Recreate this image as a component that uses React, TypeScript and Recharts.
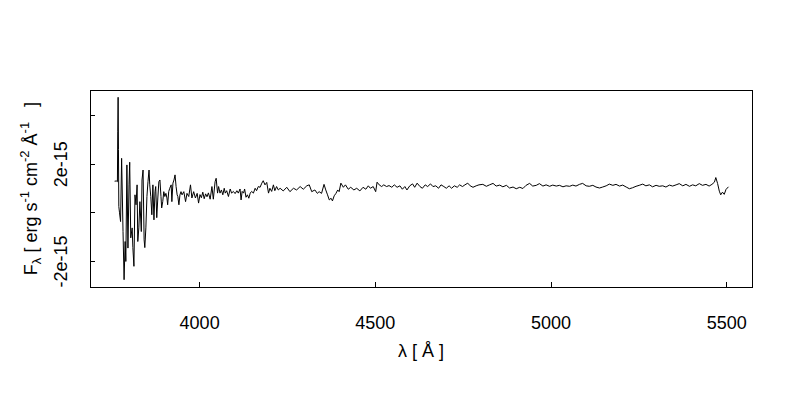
import React from 'react';
import { LineChart, Line, XAxis, YAxis, ReferenceArea } from 'recharts';

// wavelength in Å
const wavelength = [
  3758, 3763, 3766, 3767, 3768, 3769, 3770, 3772, 3775, 3778, 3782, 3785, 3788, 3790, 3793, 3796, 3799, 3801, 3804, 3808,
  3810, 3813, 3816, 3819, 3822, 3824, 3827, 3830, 3834, 3836, 3839, 3842, 3844, 3847, 3850, 3853, 3856, 3858, 3861, 3864,
  3867, 3870, 3873, 3875, 3878, 3881, 3884, 3887, 3890, 3892, 3895, 3898, 3901, 3904, 3907, 3909, 3912, 3915, 3919, 3921,
  3924, 3927, 3930, 3933, 3936, 3938, 3941, 3944, 3947, 3950, 3955, 3960, 3964, 3969, 3974, 3978, 3983, 3988, 3993, 3997,
  4001, 4005, 4009, 4013, 4017, 4021, 4025, 4030, 4035, 4039, 4044, 4047, 4051, 4054, 4058, 4062, 4066, 4070, 4073, 4077,
  4082, 4087, 4091, 4096, 4101, 4106, 4110, 4115, 4118, 4121, 4125, 4128, 4132, 4136, 4140, 4144, 4148, 4153, 4158, 4162,
  4167, 4172, 4177, 4181, 4186, 4191, 4196, 4200, 4205, 4210, 4214, 4219, 4224, 4229, 4238, 4248, 4257, 4267, 4276, 4286,
  4295, 4305, 4312, 4319, 4328, 4335, 4340, 4347, 4354, 4359, 4364, 4369, 4374, 4378, 4383, 4388, 4393, 4397, 4402, 4409,
  4415, 4423, 4430, 4439, 4447, 4456, 4465, 4473, 4480, 4486, 4494, 4501, 4505, 4511, 4518, 4524, 4532, 4539, 4547, 4554,
  4562, 4570, 4577, 4584, 4590, 4598, 4606, 4612, 4619, 4627, 4634, 4642, 4649, 4657, 4664, 4672, 4680, 4687, 4695, 4702,
  4710, 4717, 4725, 4733, 4740, 4748, 4755, 4763, 4770, 4778, 4787, 4795, 4806, 4816, 4825, 4835, 4844, 4854, 4863, 4873,
  4882, 4892, 4901, 4911, 4920, 4929, 4939, 4948, 4958, 4967, 4977, 4986, 4996, 5005, 5015, 5024, 5034, 5043, 5053, 5062,
  5071, 5081, 5090, 5100, 5109, 5119, 5128, 5138, 5147, 5157, 5166, 5176, 5185, 5195, 5204, 5214, 5223, 5232, 5242, 5251,
  5261, 5270, 5280, 5289, 5299, 5308, 5318, 5327, 5337, 5346, 5356, 5365, 5375, 5384, 5394, 5403, 5412, 5422, 5431, 5441,
  5450, 5458, 5465, 5469, 5474, 5479, 5483, 5488, 5493, 5498, 5505,
];

// flux in units of 1e-15 erg s^-1 cm^-2 Å^-1
const flux = [
  1.30, 1.31, 1.28, 3.33, 4.75, 2.60, 0.26, 0.00, -0.36, 2.24, -0.77, -2.75, -1.18, -2.00, 1.97, -1.45, 1.15, 2.08, -1.03, -0.62,
  -1.43, -2.20, 0.74, 0.33, 1.15, -1.18, -0.62, 0.46, -0.77, 1.35, 1.76, -1.11, -1.43, -0.62, 0.67, 1.28, 1.76, 1.15, 0.67, -0.08,
  1.15, -0.29, 0.87, 1.08, -0.20, 0.61, 1.28, 1.35, 0.67, 0.20, 0.46, 0.87, 0.67, 0.80, 0.61, 0.33, 0.87, 1.01, 1.15, 0.46,
  1.22, 1.35, 1.56, 1.08, 0.74, 0.67, 0.33, 0.74, 0.87, 0.74, 0.87, 0.46, 0.80, 0.67, 1.15, 0.61, 0.87, 0.61, 0.80, 0.40,
  0.75, 0.62, 0.85, 0.58, 0.78, 0.66, 0.82, 0.56, 1.08, 0.56, 1.28, 1.42, 0.81, 1.08, 0.81, 0.94, 0.74, 1.01, 0.81, 0.91,
  0.67, 0.98, 0.81, 0.88, 0.79, 0.91, 0.81, 0.98, 0.53, 0.88, 0.81, 0.98, 0.64, 0.74, 0.60, 0.81, 0.88, 0.81, 1.01, 0.91,
  1.08, 1.05, 1.22, 1.32, 1.15, 1.25, 0.81, 1.01, 0.88, 1.15, 0.91, 1.08, 0.94, 1.01, 0.90, 1.05, 0.87, 1.01, 0.94, 1.08,
  0.97, 1.11, 1.15, 0.87, 0.94, 0.80, 0.87, 0.80, 1.17, 0.94, 0.74, 0.53, 0.60, 0.49, 0.70, 0.80, 0.94, 0.87, 1.22, 1.05,
  1.15, 0.97, 1.05, 0.94, 1.01, 0.90, 1.05, 0.97, 1.11, 1.01, 1.08, 0.87, 1.26, 1.15, 1.08, 1.15, 1.08, 1.12, 1.05, 1.15,
  1.05, 1.11, 0.97, 1.08, 0.94, 1.11, 1.19, 1.05, 1.22, 1.08, 1.01, 1.15, 1.08, 1.19, 1.08, 1.11, 1.01, 1.15, 1.08, 1.01,
  1.11, 1.01, 1.11, 1.05, 1.15, 1.08, 1.15, 1.22, 1.11, 1.05, 1.11, 1.15, 1.17, 1.09, 1.15, 1.21, 1.10, 1.14, 1.07, 1.13,
  1.02, 1.06, 0.99, 1.05, 1.00, 1.13, 1.21, 1.10, 1.13, 1.20, 1.10, 1.15, 1.09, 1.14, 1.10, 1.13, 1.07, 1.11, 1.09, 1.14,
  1.10, 1.17, 1.21, 1.11, 1.09, 1.13, 1.06, 1.02, 1.06, 1.11, 1.18, 1.13, 1.17, 1.10, 1.14, 1.06, 0.99, 1.03, 1.09, 1.13,
  1.18, 1.11, 1.15, 1.07, 1.13, 1.09, 1.11, 1.06, 1.14, 1.10, 1.15, 1.20, 1.11, 1.17, 1.09, 1.15, 1.11, 1.20, 1.13, 1.17,
  1.10, 1.17, 1.26, 1.45, 1.21, 0.89, 0.74, 0.85, 0.76, 0.96, 1.07,
];

const xTicks = [4000, 4500, 5000, 5500];
const yTicks = [-2, 0, 2, 4];
const yTickLabels = ['-2e-15', '', '2e-15', ''];
const xDomain = [3688, 5572];
const yDomain = [-3.05, 5.05];

const data = wavelength.map((w, i) => ({ w, f: flux[i] }));

const FONT = '"Liberation Sans", Arial, Helvetica, sans-serif';
const FS = 18;
const FS_SMALL = 13;

function XTick(props: any) {
  const { x, y, payload } = props;
  return (
    <g>
      <text x={x} y={y + 42} textAnchor="middle" fontFamily={FONT} fontSize={FS} fill="#000">
        {String(payload.value)}
      </text>
    </g>
  );
}

function YTick(props: any) {
  const { x, y, payload } = props;
  const idx = yTicks.indexOf(payload.value);
  const label = idx >= 0 ? yTickLabels[idx] : '';
  if (!label) return <g />;
  const bx = x - 23;
  return (
    <g>
      <text
        x={bx}
        y={y}
        transform={`rotate(-90, ${bx}, ${y})`}
        textAnchor="middle"
        fontFamily={FONT}
        fontSize={FS}
        fill="#000"
      >
        {label}
      </text>
    </g>
  );
}

function YTitle(props: any) {
  const vb = props.viewBox || { x: 0, y: 90, width: 90, height: 197 };
  const cx = 37;
  const cy = vb.y + vb.height / 2;
  return (
    <text
      x={cx}
      y={cy}
      transform={`rotate(-90, ${cx}, ${cy})`}
      textAnchor="middle"
      fontFamily={FONT}
      fontSize={FS}
      fill="#000"
      style={{ whiteSpace: 'pre' }}
    >
      <tspan>F</tspan>
      <tspan fontSize={FS_SMALL} dy={4}>λ</tspan>
      <tspan dy={-4}>{' [ erg s'}</tspan>
      <tspan fontSize={FS_SMALL} dy={-8}>-1</tspan>
      <tspan dy={8}>{' cm'}</tspan>
      <tspan fontSize={FS_SMALL} dy={-8}>-2</tspan>
      <tspan dy={8}>{' Å'}</tspan>
      <tspan fontSize={FS_SMALL} dy={-8}>-1</tspan>
      <tspan dy={8}>{'   ]'}</tspan>
    </text>
  );
}

function XTitle(props: any) {
  const vb = props.viewBox || { x: 90, y: 287, width: 662, height: 113 };
  const cx = vb.x + vb.width / 2;
  return (
    <text x={cx} y={357} textAnchor="middle" fontFamily={FONT} fontSize={FS} fill="#000" style={{ whiteSpace: 'pre' }}>
      {'λ [ Å ]'}
    </text>
  );
}

export default function App() {
  return (
    <div style={{ position: 'absolute', left: 0, top: 0, width: 800, height: 400, background: '#fff' }}>
      <LineChart width={800} height={400} data={data} margin={{ top: 90, right: 48, bottom: 0, left: 0 }}>
        <XAxis
          dataKey="w"
          type="number"
          domain={xDomain}
          ticks={xTicks}
          allowDataOverflow
          height={113}
          axisLine={false}
          tickLine={{ stroke: '#000', shapeRendering: 'crispEdges' }}
          tickSize={-5}
          tickMargin={5}
          tick={<XTick />}
          label={{ content: (p: any) => <XTitle {...p} /> }}
          interval={0}
        />
        <YAxis
          type="number"
          domain={yDomain}
          ticks={yTicks}
          allowDataOverflow
          width={90}
          axisLine={false}
          tickLine={{ stroke: '#000', shapeRendering: 'crispEdges' }}
          tickSize={-5}
          tickMargin={5}
          tick={<YTick />}
          label={{ content: (p: any) => <YTitle {...p} /> }}
          interval={0}
        />
        <ReferenceArea
          x1={xDomain[0]}
          x2={xDomain[1]}
          y1={yDomain[0]}
          y2={yDomain[1]}
          fill="none"
          stroke="#000"
          strokeWidth={1}
          shapeRendering="crispEdges"
        />
        <Line
          type="linear"
          dataKey="f"
          stroke="#000"
          strokeWidth={1}
          dot={false}
          activeDot={false}
          isAnimationActive={false}
        />
      </LineChart>
    </div>
  );
}
